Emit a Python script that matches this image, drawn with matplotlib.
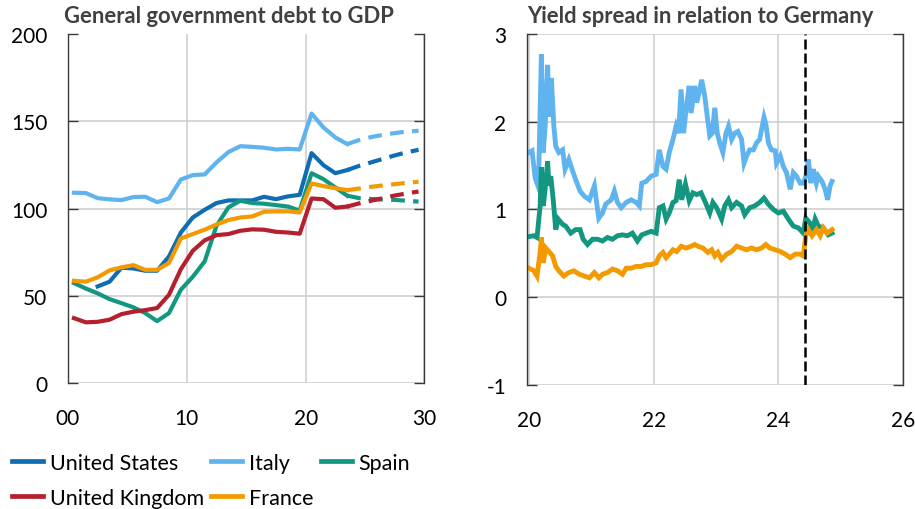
import matplotlib

matplotlib.use("Agg")
import matplotlib.pyplot as plt
import numpy as np

plt.rcParams["font.family"] = ["Lato", "DejaVu Sans"]
plt.rcParams["axes.unicode_minus"] = False

# ---- general government debt, % of GDP (annual; 2024-2029 are projections)
years = np.arange(2000, 2030)
proj_start = 2023

us_debt = [np.nan, np.nan, 55.4, 58.1, 66.1, 65.7, 64.4, 64.4, 72.6, 86.3,
           94.9, 99.3, 103.2, 104.7, 104.7, 104.7, 106.8, 105.4, 107.0, 107.9,
           131.8, 124.9, 120.3, 122.1, 124.5, 126.5, 128.5, 130.5, 132.3, 133.7]
italy_debt = [109.1, 108.9, 106.0, 105.3, 104.9, 106.6, 106.8, 103.7, 105.8, 116.7,
              119.2, 119.6, 126.5, 132.4, 135.8, 135.4, 134.9, 133.9, 134.3, 133.9,
              154.5, 146.5, 140.8, 137.0, 139.3, 141.0, 142.3, 143.3, 144.2, 144.6]
spain_debt = [57.3, 54.2, 51.4, 48.1, 45.8, 43.4, 40.1, 35.5, 40.1, 53.5,
              60.9, 69.7, 90.2, 100.7, 104.5, 103.2, 102.8, 102.0, 101.2, 98.9,
              120.3, 116.9, 112.1, 107.4, 106.0, 105.5, 105.2, 105.0, 104.5, 104.0]
uk_debt = [37.2, 34.8, 35.1, 36.3, 39.5, 40.9, 41.8, 43.0, 50.6, 65.3,
           75.8, 81.8, 84.8, 85.4, 87.3, 88.1, 87.9, 86.7, 86.3, 85.6,
           105.8, 105.4, 100.5, 101.2, 103.0, 104.5, 106.0, 107.5, 108.7, 109.8]
france_debt = [58.6, 58.1, 60.6, 64.6, 66.3, 67.6, 64.9, 64.9, 68.8, 82.9,
               85.4, 87.9, 90.9, 93.4, 94.9, 95.5, 98.2, 98.4, 98.4, 97.8,
               114.4, 112.9, 111.7, 110.6, 111.5, 112.5, 113.3, 114.0, 114.8, 115.4]

# ---- 10y yield spread vs Germany, percentage points (decimal-year dates)
italy_t = [2020.00, 2020.05, 2020.10, 2020.13, 2020.16, 2020.20, 2020.23, 2020.26,
           2020.30, 2020.32, 2020.36, 2020.40, 2020.43, 2020.48, 2020.54, 2020.58,
           2020.64, 2020.70, 2020.75, 2020.82, 2020.89, 2020.97, 2021.05, 2021.12,
           2021.18, 2021.23, 2021.32, 2021.37, 2021.42, 2021.48, 2021.56, 2021.64,
           2021.72, 2021.77, 2021.81, 2021.88, 2021.96, 2022.04, 2022.09, 2022.15,
           2022.20, 2022.25, 2022.31, 2022.36, 2022.40, 2022.44, 2022.48, 2022.52,
           2022.57, 2022.60, 2022.66, 2022.69, 2022.74, 2022.77, 2022.82, 2022.86,
           2022.90, 2022.94, 2022.98, 2023.02, 2023.06, 2023.11, 2023.16, 2023.20,
           2023.25, 2023.30, 2023.35, 2023.41, 2023.45, 2023.49, 2023.54, 2023.60,
           2023.65, 2023.70, 2023.73, 2023.77, 2023.80, 2023.84, 2023.89, 2023.95,
           2023.97, 2024.03, 2024.08, 2024.13, 2024.19, 2024.24, 2024.29, 2024.35,
           2024.40, 2024.44, 2024.48, 2024.52, 2024.56, 2024.61, 2024.64, 2024.70,
           2024.75, 2024.79, 2024.83, 2024.86]
italy_spread = [1.65, 1.67, 1.36, 1.30, 1.49, 2.77, 1.65, 1.95, 2.65, 2.06,
                2.50, 1.95, 1.72, 1.65, 1.68, 1.46, 1.57, 1.44, 1.34, 1.21,
                1.15, 1.11, 1.27, 0.90, 0.96, 1.06, 1.11, 1.21, 1.08, 1.02,
                1.08, 1.11, 1.08, 1.04, 1.30, 1.32, 1.38, 1.40, 1.68, 1.49,
                1.46, 1.65, 1.80, 1.95, 1.87, 2.37, 1.87, 2.14, 2.41, 2.10,
                2.41, 2.22, 2.37, 2.48, 2.29, 2.06, 1.84, 1.87, 2.16, 1.87,
                1.76, 1.65, 1.87, 1.95, 1.80, 1.87, 1.89, 1.80, 1.53, 1.61,
                1.68, 1.68, 1.76, 1.80, 1.91, 2.05, 1.97, 1.76, 1.68, 1.67,
                1.53, 1.61, 1.49, 1.42, 1.23, 1.42, 1.38, 1.30, 1.30, 1.38,
                1.57, 1.30, 1.46, 1.30, 1.38, 1.32, 1.23, 1.11, 1.27, 1.32]

spain_t = [2020.00, 2020.08, 2020.13, 2020.18, 2020.20, 2020.23, 2020.26, 2020.30,
           2020.32, 2020.35, 2020.39, 2020.43, 2020.47, 2020.54, 2020.59, 2020.67,
           2020.75, 2020.82, 2020.87, 2020.94, 2021.02, 2021.10, 2021.18, 2021.26,
           2021.34, 2021.42, 2021.50, 2021.58, 2021.66, 2021.74, 2021.81, 2021.88,
           2021.96, 2022.04, 2022.09, 2022.15, 2022.20, 2022.25, 2022.31, 2022.36,
           2022.41, 2022.45, 2022.51, 2022.57, 2022.63, 2022.69, 2022.76, 2022.83,
           2022.90, 2022.95, 2023.01, 2023.09, 2023.14, 2023.20, 2023.25, 2023.33,
           2023.41, 2023.46, 2023.54, 2023.62, 2023.70, 2023.77, 2023.84, 2023.92,
           2024.00, 2024.08, 2024.16, 2024.24, 2024.32, 2024.40, 2024.44, 2024.50,
           2024.55, 2024.59, 2024.64, 2024.72, 2024.80, 2024.86]
spain_spread = [0.69, 0.70, 0.68, 1.04, 1.48, 1.04, 1.23, 1.55, 1.27, 1.38,
                1.11, 0.77, 0.89, 0.83, 0.81, 0.73, 0.77, 0.77, 0.66, 0.60,
                0.66, 0.66, 0.64, 0.68, 0.66, 0.70, 0.71, 0.70, 0.73, 0.64,
                0.71, 0.73, 0.75, 0.73, 1.02, 1.04, 0.89, 0.96, 1.08, 1.10,
                1.34, 1.11, 1.29, 1.10, 1.19, 1.17, 1.19, 1.08, 0.96, 1.08,
                1.02, 0.89, 1.04, 1.11, 1.02, 1.08, 1.04, 0.94, 1.02, 1.04,
                1.08, 1.13, 1.06, 1.00, 0.96, 0.98, 0.89, 0.81, 0.79, 0.73,
                0.90, 0.85, 0.77, 0.89, 0.81, 0.79, 0.71, 0.73]

france_t = [2020.00, 2020.08, 2020.13, 2020.18, 2020.20, 2020.23, 2020.27, 2020.32,
            2020.38, 2020.43, 2020.48, 2020.56, 2020.64, 2020.72, 2020.81, 2020.89,
            2020.97, 2021.05, 2021.12, 2021.18, 2021.26, 2021.34, 2021.42, 2021.50,
            2021.56, 2021.64, 2021.72, 2021.80, 2021.88, 2021.96, 2022.04, 2022.09,
            2022.15, 2022.20, 2022.25, 2022.31, 2022.37, 2022.44, 2022.52, 2022.60,
            2022.66, 2022.71, 2022.79, 2022.87, 2022.93, 2022.98, 2023.03, 2023.09,
            2023.17, 2023.25, 2023.33, 2023.41, 2023.49, 2023.57, 2023.65, 2023.73,
            2023.80, 2023.86, 2023.95, 2024.03, 2024.11, 2024.19, 2024.27, 2024.35,
            2024.40, 2024.44, 2024.48, 2024.54, 2024.61, 2024.67, 2024.72, 2024.78,
            2024.86]
france_spread = [0.33, 0.30, 0.24, 0.51, 0.68, 0.39, 0.56, 0.52, 0.47, 0.35,
                 0.30, 0.24, 0.28, 0.30, 0.26, 0.24, 0.22, 0.28, 0.22, 0.26,
                 0.28, 0.32, 0.30, 0.26, 0.33, 0.33, 0.35, 0.35, 0.37, 0.37,
                 0.39, 0.47, 0.51, 0.45, 0.49, 0.54, 0.52, 0.58, 0.56, 0.58,
                 0.60, 0.58, 0.56, 0.51, 0.54, 0.47, 0.51, 0.43, 0.49, 0.52,
                 0.58, 0.56, 0.54, 0.56, 0.54, 0.56, 0.60, 0.56, 0.54, 0.52,
                 0.49, 0.45, 0.49, 0.49, 0.47, 0.70, 0.77, 0.70, 0.77, 0.70,
                 0.79, 0.73, 0.77]

event_date = 2024.42  # dissolution of the French parliament

colors = {
    "United States": "#0f6db3",
    "Italy": "#5fb4ef",
    "Spain": "#139781",
    "United Kingdom": "#b51f2e",
    "France": "#f39a00",
}

TEXT = "#404040"
GRID = "#d0d0d0"
SPINE = "#3a3a3a"


def style_axes(ax, yticks):
    ax.set_yticks(yticks)
    ax.tick_params(axis="y", which="both", direction="in", length=7, width=1,
                   color=SPINE, left=True, right=True, labelsize=15, pad=15)
    ax.tick_params(axis="x", length=0, labelsize=15, pad=18)
    ax.grid(True, color=GRID, lw=1.2)
    ax.set_axisbelow(True)
    for side in ("top", "bottom"):
        ax.spines[side].set_visible(False)
    for side in ("left", "right"):
        ax.spines[side].set_color(SPINE)
        ax.spines[side].set_linewidth(1.0)


fig = plt.figure(figsize=(9.15, 5.10), dpi=100)
ax1 = fig.add_axes([0.0743, 0.247, 0.3896, 0.684])
ax2 = fig.add_axes([0.5760, 0.2437, 0.4110, 0.6873])

# left: debt ratios, annual points centred mid-year
x_debt = years - 2000 + 0.5
hist = years <= proj_start
proj = years >= proj_start
debt = [("United States", us_debt), ("Italy", italy_debt), ("Spain", spain_debt),
        ("United Kingdom", uk_debt), ("France", france_debt)]
for name, vals in debt:
    vals = np.asarray(vals, dtype=float)
    ax1.plot(x_debt[proj], vals[proj], color=colors[name], lw=3.0,
             dashes=(3.3, 2.0), dash_capstyle="butt", solid_capstyle="butt")
    ax1.plot(x_debt[hist], vals[hist], color=colors[name], lw=3.0,
             solid_joinstyle="round")

ax1.set_xlim(0, 30)
ax1.set_ylim(0, 200)
ax1.set_xticks([0, 10, 20, 30])
ax1.set_xticklabels(["00", "10", "20", "30"])
style_axes(ax1, [0, 50, 100, 150, 200])
ax1.get_ygridlines()[-1].set_visible(False)
ax1.set_title("General government debt to GDP", loc="left", x=-0.01,
              fontsize=15.8, fontweight="bold", color=TEXT, pad=9)

# right: spreads vs Bunds
spreads = [("Italy", italy_t, italy_spread), ("Spain", spain_t, spain_spread),
           ("France", france_t, france_spread)]
for name, t, s in spreads:
    ax2.plot(np.asarray(t) - 2000, s, color=colors[name], lw=3.5,
             solid_joinstyle="miter")
ax2.axvline(event_date - 2000, color="black", lw=1.8, dashes=(4, 1.6))

ax2.set_xlim(19.97, 26)
ax2.set_ylim(-1, 3)
ax2.set_xticks([20, 22, 24, 26])
style_axes(ax2, [-1, 0, 1, 2, 3])
ax2.set_title("Yield spread in relation to Germany", loc="left", x=0.0,
              fontsize=15.8, fontweight="bold", color=TEXT, pad=9)

# shared legend under the left panel (column-major fill)
order = ["United States", "United Kingdom", "Italy", "France", "Spain"]
leg_handles = [plt.Line2D([], [], color=colors[n], lw=3.4) for n in order]
fig.legend(leg_handles, order, loc="upper left", bbox_to_anchor=(0.013, 0.110),
           ncol=3, frameon=False, fontsize=15.5, handlelength=1.45,
           handletextpad=0.3, columnspacing=0.35, labelspacing=0.7,
           borderpad=0, borderaxespad=0)

fig.savefig("out.png", dpi=100)
